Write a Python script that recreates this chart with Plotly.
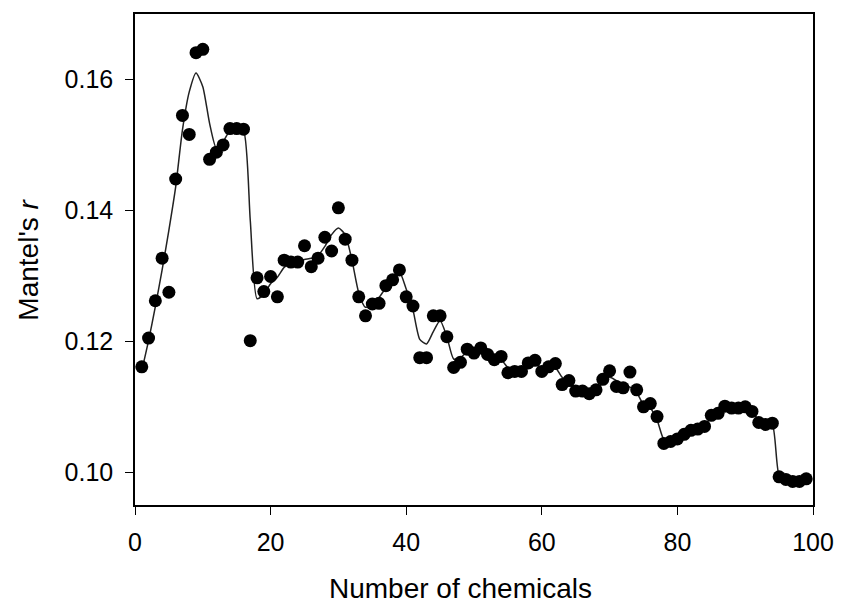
import plotly.graph_objects as go

n_chemicals = list(range(1, 100))

mantel_r = [
    0.1161, 0.1205, 0.1262, 0.1327, 0.1275, 0.1448, 0.1545, 0.1516, 0.1641, 0.1646,
    0.1478, 0.1489, 0.1500, 0.1525, 0.1525, 0.1524, 0.1201, 0.1297, 0.1276, 0.1299,
    0.1268, 0.1324, 0.1321, 0.1321, 0.1346, 0.1314, 0.1327, 0.1359, 0.1338, 0.1404,
    0.1356, 0.1324, 0.1268, 0.1239, 0.1257, 0.1258, 0.1285, 0.1294, 0.1309, 0.1268,
    0.1254, 0.1175, 0.1175, 0.1239, 0.1239, 0.1207, 0.1160, 0.1168, 0.1188, 0.1182,
    0.1190, 0.1180, 0.1172, 0.1177, 0.1152, 0.1154, 0.1154, 0.1167, 0.1171, 0.1154,
    0.1161, 0.1166, 0.1134, 0.1140, 0.1124, 0.1124, 0.1120, 0.1126, 0.1142, 0.1155,
    0.1131, 0.1129, 0.1153, 0.1126, 0.1100, 0.1105, 0.1085, 0.1044, 0.1047, 0.1051,
    0.1058, 0.1064, 0.1066, 0.1070, 0.1087, 0.1090, 0.1101, 0.1098, 0.1098, 0.1100,
    0.1093, 0.1076, 0.1073, 0.1075, 0.0993, 0.0989, 0.0986, 0.0986, 0.0990,
]

smoothed_r = [
    0.1155, 0.1201, 0.1253, 0.1309, 0.1370, 0.1436, 0.1523, 0.1581, 0.1610, 0.1589,
    0.1533, 0.1495, 0.1505, 0.1522, 0.1525, 0.1522, 0.1385, 0.1265, 0.1272, 0.1288,
    0.1298, 0.1313, 0.1320, 0.1322, 0.1325, 0.1327, 0.1331, 0.1345, 0.1363, 0.1373,
    0.1363, 0.1324, 0.1274, 0.1252, 0.1257, 0.1267, 0.1282, 0.1295, 0.1306, 0.1280,
    0.1248, 0.1203, 0.1196, 0.1215, 0.1232, 0.1207, 0.1173, 0.1175, 0.1184, 0.1183,
    0.1185, 0.1180, 0.1175, 0.1172, 0.1160, 0.1156, 0.1156, 0.1162, 0.1165, 0.1160,
    0.1162, 0.1160, 0.1145, 0.1135, 0.1125, 0.1122, 0.1122, 0.1126, 0.1137, 0.1145,
    0.1140, 0.1135, 0.1130, 0.1122, 0.1103, 0.1098, 0.1080, 0.1050, 0.1047, 0.1051,
    0.1057, 0.1063, 0.1067, 0.1072, 0.1084, 0.1091, 0.1098, 0.1100, 0.1099, 0.1098,
    0.1092, 0.1080, 0.1074, 0.1073, 0.0995, 0.0988, 0.0986, 0.0986, 0.0989,
]

x_ticks = [0, 20, 40, 60, 80, 100]
y_ticks = [0.10, 0.12, 0.14, 0.16]
y_tick_labels = ["0.10", "0.12", "0.14", "0.16"]

FONT = "Liberation Sans, Arial, sans-serif"

fig = go.Figure()
fig.add_trace(go.Scatter(
    x=n_chemicals, y=smoothed_r, mode="lines",
    line=dict(color="#222222", width=1.5, shape="spline", smoothing=0.6),
    hoverinfo="skip", showlegend=False,
))
fig.add_trace(go.Scatter(
    x=n_chemicals, y=mantel_r, mode="markers",
    marker=dict(color="black", size=13, line=dict(width=0)),
    showlegend=False,
))

axis_common = dict(
    showline=True, linecolor="black", linewidth=1.5, mirror=True,
    ticks="outside", ticklen=8, tickwidth=1.2, tickcolor="black",
    showgrid=False, zeroline=False,
    tickfont=dict(family=FONT, size=25, color="black"),
)

fig.update_xaxes(range=[0, 100], tickmode="array", tickvals=x_ticks,
                 ticklabelstandoff=6, **axis_common)
fig.update_yaxes(range=[0.095, 0.170], tickmode="array", tickvals=y_ticks,
                 ticktext=y_tick_labels, ticklabelstandoff=7, **axis_common)

fig.add_annotation(text="Number of chemicals", xref="paper", yref="paper",
                   x=0.4805, y=-0.171, xanchor="center", yanchor="middle",
                   showarrow=False, font=dict(family=FONT, size=28, color="black"))
fig.add_annotation(text="Mantel's <i>r</i>", xref="paper", yref="paper",
                   x=-0.1576, y=0.5, xanchor="center", yanchor="middle", textangle=-90,
                   showarrow=False, font=dict(family=FONT, size=28, color="black"))

fig.update_layout(
    width=846, height=608,
    margin=dict(l=135, r=28, t=13, b=103),
    plot_bgcolor="white", paper_bgcolor="white",
)

fig.write_html("out.html")
